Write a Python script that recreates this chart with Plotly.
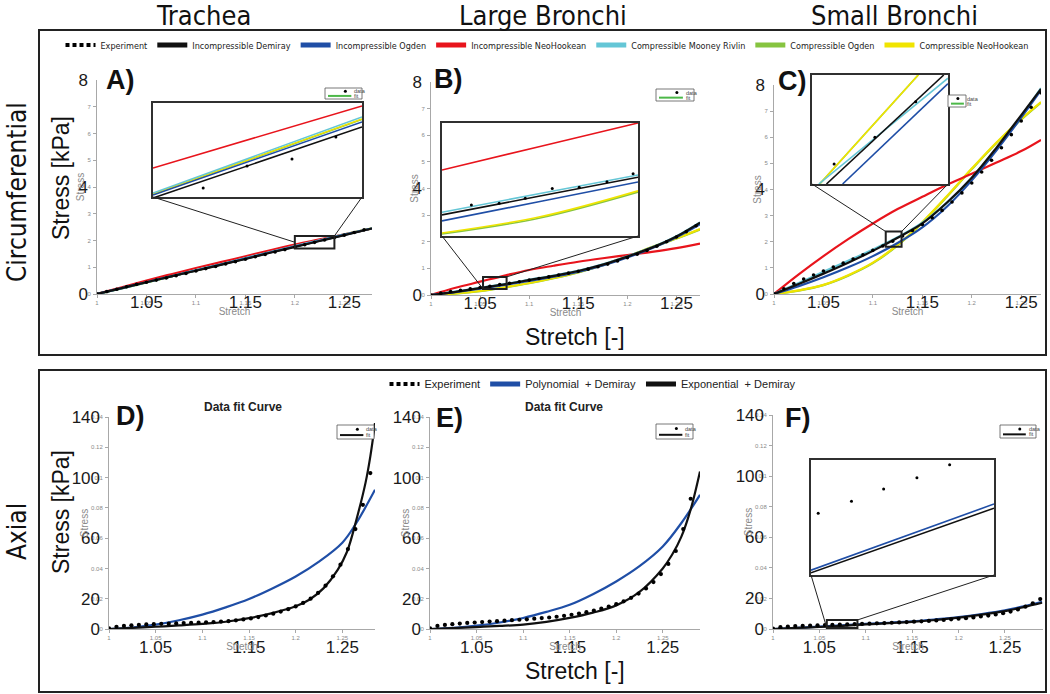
import plotly.graph_objects as go

# ---------------------------------------------------
# DATA  (stress in kPa, stretch in -)
# ---------------------------------------------------

col_titles = ["Trachea", "Large Bronchi", "Small Bronchi"]
row_titles = ["Circumferential", "Axial"]
panel_letters = ["A)", "B)", "C)", "D)", "E)", "F)"]

circ_models = ["Incompressible Demiray", "Incompressible Ogden", "Incompressible NeoHookean",
               "Compressible Mooney Rivlin", "Compressible Ogden", "Compressible NeoHookean"]
circ_colors = ["#111111", "#1f4ea6", "#e8141c", "#64c6d6", "#86c440", "#f0e400"]

axial_models = ["Polynomial  + Demiray", "Exponential  + Demiray"]
axial_colors = ["#1f4ea6", "#111111"]

# circumferential - model curves
x_a = [1.0, 1.025, 1.05, 1.075, 1.1, 1.125, 1.15, 1.175, 1.2, 1.225, 1.25, 1.278]
a_curves = [
    [0, 0.22, 0.44, 0.66, 0.87, 1.09, 1.31, 1.54, 1.76, 1.98, 2.2, 2.45],
    [0, 0.22, 0.44, 0.66, 0.88, 1.1, 1.32, 1.55, 1.77, 1.99, 2.21, 2.45],
    [0, 0.25, 0.5, 0.74, 0.97, 1.19, 1.41, 1.63, 1.845, 2.04, 2.23, 2.45],
    [0, 0.21, 0.43, 0.66, 0.89, 1.11, 1.34, 1.57, 1.79, 2.01, 2.23, 2.46],
    [0, 0.21, 0.43, 0.66, 0.885, 1.1, 1.33, 1.56, 1.78, 2.0, 2.22, 2.455],
    [0, 0.215, 0.435, 0.66, 0.885, 1.105, 1.33, 1.56, 1.785, 2.005, 2.225, 2.455],
]

x_b = [1.0, 1.025, 1.05, 1.075, 1.1, 1.125, 1.15, 1.175, 1.2, 1.225, 1.25, 1.274]
b_curves = [
    [0, 0.12, 0.26, 0.4, 0.56, 0.72, 0.9, 1.14, 1.44, 1.78, 2.2, 2.72],
    [0, 0.11, 0.24, 0.38, 0.53, 0.69, 0.87, 1.11, 1.41, 1.76, 2.17, 2.66],
    [0, 0.27, 0.5, 0.73, 0.94, 1.1, 1.25, 1.38, 1.5, 1.62, 1.76, 1.93],
    [0, 0.13, 0.27, 0.41, 0.57, 0.73, 0.91, 1.15, 1.45, 1.79, 2.21, 2.73],
    [0, 0.05, 0.14, 0.28, 0.44, 0.63, 0.85, 1.12, 1.44, 1.79, 2.12, 2.46],
    [0, 0.06, 0.15, 0.29, 0.45, 0.64, 0.86, 1.13, 1.45, 1.8, 2.13, 2.48],
]

x_c = [1.0, 1.025, 1.05, 1.075, 1.1, 1.125, 1.15, 1.175, 1.2, 1.225, 1.25, 1.27]
c_curves = [
    [0, 0.38, 0.78, 1.2, 1.65, 2.15, 2.7, 3.5, 4.45, 5.6, 6.85, 7.85],
    [0, 0.3, 0.64, 1.02, 1.45, 1.95, 2.55, 3.35, 4.35, 5.5, 6.75, 7.8],
    [0, 0.75, 1.45, 2.1, 2.7, 3.25, 3.72, 4.18, 4.6, 5.03, 5.47, 5.9],
    [0, 0.42, 0.85, 1.27, 1.7, 2.17, 2.73, 3.5, 4.45, 5.55, 6.8, 7.88],
    [0, 0.13, 0.34, 0.7, 1.18, 1.86, 2.73, 3.73, 4.78, 5.78, 6.68, 7.33],
    [0, 0.14, 0.35, 0.72, 1.2, 1.88, 2.75, 3.75, 4.8, 5.8, 6.7, 7.35],
]

# circumferential - experiment
x_exp_circ = [1.00, 1.01, 1.02, 1.03, 1.04, 1.05, 1.06, 1.07, 1.08, 1.09, 1.10, 1.11, 1.12, 1.13,
              1.14, 1.15, 1.16, 1.17, 1.18, 1.19, 1.20, 1.21, 1.22, 1.23, 1.24, 1.25, 1.26, 1.27]
a_exp = [0, 0.09, 0.18, 0.27, 0.36, 0.44, 0.52, 0.6, 0.68, 0.77, 0.86, 0.95, 1.03, 1.12,
         1.21, 1.3, 1.39, 1.48, 1.57, 1.66, 1.75, 1.84, 1.93, 2.02, 2.11, 2.2, 2.3, 2.4]
b_exp = [0, 0.07, 0.13, 0.18, 0.23, 0.28, 0.33, 0.39, 0.44, 0.5, 0.56, 0.62, 0.68, 0.75,
         0.82, 0.89, 0.97, 1.06, 1.16, 1.28, 1.4, 1.53, 1.67, 1.83, 2.0, 2.18, 2.38, 2.6]
c_exp = [0, 0.2, 0.4, 0.57, 0.73, 0.88, 1.03, 1.18, 1.34, 1.5, 1.67, 1.84, 2.02, 2.22,
         2.43, 2.66, 2.92, 3.2, 3.52, 3.87, 4.25, 4.67, 5.12, 5.6, 6.1, 6.62, 7.15, 7.7]

# axial - model curves
x_d_poly = [1.0, 1.025, 1.05, 1.075, 1.1, 1.125, 1.15, 1.175, 1.2, 1.225, 1.25, 1.265, 1.285]
d_poly = [0, 1.0, 2.9, 5.8, 9.5, 14.3, 19.8, 26.8, 34.7, 44.5, 57, 70, 92]
x_d_expo = [1.0, 1.025, 1.05, 1.075, 1.1, 1.125, 1.15, 1.175, 1.2, 1.215, 1.23, 1.245,
            1.255, 1.265, 1.275, 1.28, 1.285]
d_expo = [0, 0.8, 1.5, 2.4, 3.4, 4.8, 7.2, 10.5, 15.0, 19.5, 27, 39, 51, 72, 97, 114, 136]

x_e_poly = [1.0, 1.025, 1.05, 1.075, 1.1, 1.125, 1.15, 1.175, 1.2, 1.225, 1.25, 1.27, 1.29]
e_poly = [0, 0.8, 2.2, 4.3, 7.3, 11.3, 16, 23, 31.4, 41.5, 54.5, 70, 88.6]
x_e_expo = [1.0, 1.025, 1.05, 1.075, 1.1, 1.125, 1.15, 1.175, 1.2, 1.225, 1.25, 1.26, 1.27, 1.28, 1.29]
e_expo = [0, 0.6, 1.3, 2.0, 2.9, 4.7, 7.3, 10.8, 15.6, 24.5, 40, 49, 61, 79, 104]

x_f = [1.0, 1.025, 1.05, 1.075, 1.1, 1.125, 1.15, 1.175, 1.2, 1.225, 1.25, 1.27, 1.29]
f_poly = [0, 0.8, 1.5, 2.4, 3.3, 4.1, 5.0, 6.3, 7.8, 9.8, 12.2, 14.8, 17.8]
f_expo = [0, 0.7, 1.3, 2.1, 3.0, 3.8, 4.7, 5.9, 7.4, 9.4, 11.7, 14.3, 17.2]

# axial - experiment
x_exp_axial = [1.000, 1.008, 1.016, 1.024, 1.032, 1.040, 1.048, 1.056, 1.064, 1.072, 1.080, 1.088,
               1.096, 1.104, 1.112, 1.120, 1.128, 1.136, 1.144, 1.152, 1.160, 1.168, 1.176, 1.184,
               1.192, 1.200, 1.208, 1.216, 1.224, 1.232, 1.240, 1.248, 1.256, 1.264, 1.272, 1.280,
               1.288]
d_exp = [0.5, 1.5, 2.0, 2.4, 2.7, 3.0, 3.2, 3.4, 3.5, 3.7, 3.9, 4.0, 4.2, 4.4, 4.6, 4.9, 5.2, 5.7,
         6.3, 7.0, 7.9, 8.9, 10.1, 11.5, 13.1, 14.9, 17.2, 20.0, 23.8, 28.6, 34.8, 42.5, 52.8,
         66.0, 82.0, 103.0]
e_exp = [0.5, 2.0, 2.7, 3.2, 3.6, 4.0, 4.3, 4.6, 4.9, 5.2, 5.5, 5.8, 6.1, 6.4, 6.8, 7.2, 7.6, 8.1,
         8.7, 9.4, 10.2, 11.1, 12.2, 13.4, 14.8, 16.4, 18.3, 20.6, 23.4, 26.8, 31.0, 36.3, 43.0,
         51.5, 66.0, 86.0]
f_exp = [0.3, 1.2, 1.6, 1.9, 2.1, 2.3, 2.4, 2.6, 2.7, 2.9, 3.0, 3.2, 3.3, 3.5, 3.7, 3.9, 4.1, 4.3,
         4.5, 4.8, 5.0, 5.3, 5.6, 5.9, 6.3, 6.7, 7.1, 7.6, 8.2, 8.8, 9.5, 10.3, 11.4, 12.8, 14.6,
         16.8, 19.6]

# zoomed insets (same model order as circ_models)
ins_a_x = [1.2, 1.24]
ins_a_y = [[1.695, 2.05], [1.71, 2.075], [1.845, 2.155], [1.72, 2.10], [1.713, 2.088], [1.715, 2.09]]
ins_a_exp_x = [1.2096, 1.218, 1.2266, 1.235]
ins_a_exp_y = [1.745, 1.855, 1.89, 2.0]

ins_b_x = [1.053, 1.065, 1.077]
ins_b_y = [[0.314, 0.389, 0.464], [0.29, 0.3675, 0.445], [0.493, 0.5865, 0.68],
           [0.3245, 0.399, 0.473], [0.238, 0.302, 0.405], [0.242, 0.3065, 0.41]]
ins_b_exp_x = [1.0566, 1.060, 1.0632, 1.0665, 1.0698, 1.0732, 1.0764]
ins_b_exp_y = [0.353, 0.36, 0.38, 0.419, 0.424, 0.446, 0.478]

ins_c_x = [[1.1147, 1.1285], [1.1166, 1.129], [], [1.1138, 1.129], [1.1139, 1.1255], [1.1139, 1.1255]]
ins_c_y = [[1.81, 2.39], [1.81, 2.344], [], [1.81, 2.373], [1.81, 2.39], [1.81, 2.39]]
ins_c_exp_x = [1.1156, 1.1204, 1.1252]
ins_c_exp_y = [1.916, 2.059, 2.248]

ins_f_x = [1.058, 1.091]
ins_f_y = [[0.92, 3.91], [0.80, 3.72]]
ins_f_exp_x = [1.0593, 1.0653, 1.0711, 1.0771, 1.083]
ins_f_exp_y = [3.49, 4.04, 4.59, 5.10, 5.68]

# tick labels
small_x_ticks = [1, 1.05, 1.1, 1.15, 1.2, 1.25]
small_x_text = ["1", "1.05", "1.1", "1.15", "1.2", "1.25"]
big_x_ticks = [1.05, 1.15, 1.25]
small_y_circ = [0, 1, 2, 3, 4, 5, 6, 7]
big_y_circ = [0, 4, 8]
small_y_axial = [0, 20, 40, 60, 80, 100, 120, 140]
small_y_axial_text = ["0", "0.02", "0.04", "0.06", "0.08", "0.1", "0.12", "0.14"]
big_y_axial = [0, 20, 60, 100, 140]


# ---------------------------------------------------
# GEOMETRY (pixels)
# ---------------------------------------------------

W, H = 1050, 694
FONT = "Liberation Sans, Arial, sans-serif"
NARROW = "Liberation Sans Narrow, Arial Narrow, DejaVu Sans Condensed, sans-serif"


def fx(p):
    return p / W


def fy(p):
    return 1 - p / H


def sfx(n):
    return "" if n == 1 else str(n)


frames = [
    dict(x=(97, 372), y=(80, 294), xr=[1, 1.278], yr=[0, 8]),
    dict(x=(431, 700), y=(82, 295), xr=[1, 1.274], yr=[0, 8]),
    dict(x=(774, 1041), y=(85, 294), xr=[1, 1.27], yr=[0, 8]),
    dict(x=(109, 375), y=(417, 629), xr=[1, 1.285], yr=[0, 140]),
    dict(x=(430, 700), y=(417, 629), xr=[1, 1.29], yr=[0, 140]),
    dict(x=(773, 1043), y=(415, 629), xr=[1, 1.291], yr=[0, 140]),
]

fig = go.Figure()


# ---------------------------------------------------
# CIRCUMFERENTIAL PANELS
# ---------------------------------------------------

draw_order = [4, 5, 2, 3, 1, 0]
top_sets = [(x_a, a_curves, a_exp), (x_b, b_curves, b_exp), (x_c, c_curves, c_exp)]

for p, (xc, curves, exp) in enumerate(top_sets):
    s = sfx(p + 1)
    for k in draw_order:
        fig.add_trace(go.Scatter(
            x=xc, y=curves[k], mode="lines",
            line=dict(color=circ_colors[k], width=2.2, shape="spline"),
            showlegend=False, xaxis="x" + s, yaxis="y" + s
        ))
    fig.add_trace(go.Scatter(
        x=x_exp_circ, y=exp, mode="markers",
        marker=dict(color="black", size=3.6),
        showlegend=False, xaxis="x" + s, yaxis="y" + s
    ))


# ---------------------------------------------------
# AXIAL PANELS
# ---------------------------------------------------

bot_sets = [
    (x_d_poly, d_poly, x_d_expo, d_expo, x_exp_axial[:36], d_exp),
    (x_e_poly, e_poly, x_e_expo, e_expo, x_exp_axial[:36], e_exp),
    (x_f, f_poly, x_f, f_expo, x_exp_axial, f_exp),
]

for p, (xp, yp, xe, ye, xd, yd) in enumerate(bot_sets):
    s = sfx(p + 4)
    fig.add_trace(go.Scatter(x=xp, y=yp, mode="lines",
                             line=dict(color=axial_colors[0], width=2.2, shape="spline"),
                             showlegend=False, xaxis="x" + s, yaxis="y" + s))
    fig.add_trace(go.Scatter(x=xe, y=ye, mode="lines",
                             line=dict(color=axial_colors[1], width=2.2, shape="spline"),
                             showlegend=False, xaxis="x" + s, yaxis="y" + s))
    fig.add_trace(go.Scatter(x=xd, y=yd, mode="markers",
                             marker=dict(color="black", size=4.2),
                             showlegend=False, xaxis="x" + s, yaxis="y" + s))


# ---------------------------------------------------
# LEGENDS (legend-only entries)
# ---------------------------------------------------

fig.add_trace(go.Scatter(x=[None], y=[None], mode="lines", name="Experiment",
                         line=dict(color="black", width=4, dash="4px,3px"),
                         legend="legend", legendrank=1))
for k, name in enumerate(circ_models):
    fig.add_trace(go.Scatter(x=[None], y=[None], mode="lines", name=name,
                             line=dict(color=circ_colors[k], width=5),
                             legend="legend", legendrank=k + 2))

fig.add_trace(go.Scatter(x=[None], y=[None], mode="lines", name="Experiment",
                         line=dict(color="black", width=4, dash="4px,3px"),
                         legend="legend2", legendrank=1))
for k, name in enumerate(axial_models):
    fig.add_trace(go.Scatter(x=[None], y=[None], mode="lines", name=name,
                             line=dict(color=axial_colors[k], width=5),
                             legend="legend2", legendrank=k + 2))


# ---------------------------------------------------
# AXES
# ---------------------------------------------------

layout = {}
small_font = dict(family=FONT, size=6, color="#8a8a8a")
big_font = dict(family=FONT, size=17, color="#1a1a1a")

for i, fr in enumerate(frames):
    n = i + 1
    s = sfx(n)
    top = i < 3
    xd = [fx(fr["x"][0]), fx(fr["x"][1])]
    yd = [fy(fr["y"][1]), fy(fr["y"][0])]

    layout["xaxis" + s] = dict(
        domain=xd, range=fr["xr"], anchor="y" + s,
        showline=True, linecolor="#a8a8a8", linewidth=1,
        ticks="outside", ticklen=3, tickcolor="#a8a8a8",
        tickvals=small_x_ticks, ticktext=small_x_text, tickfont=small_font,
        ticklabelstandoff=0, showgrid=False, zeroline=False, automargin=False,
        title=dict(text="Stretch", font=dict(family=FONT, size=10, color="#8a8a8a"), standoff=0),
    )
    layout["yaxis" + s] = dict(
        domain=yd, range=fr["yr"], anchor="x" + s,
        showline=True, linecolor="#a8a8a8", linewidth=1,
        ticks="outside", ticklen=3, tickcolor="#a8a8a8",
        tickvals=small_y_circ if top else small_y_axial,
        ticktext=[str(v) for v in small_y_circ] if top else small_y_axial_text,
        tickfont=small_font, ticklabelstandoff=1,
        showgrid=False, zeroline=False, automargin=False,
        title=dict(text="Stress", font=dict(family=FONT, size=10, color="#8a8a8a"), standoff=0),
    )

    # big tick labels on overlaid axes
    b = str(n + 6)
    layout["xaxis" + b] = dict(
        overlaying="x" + s, anchor="y" + s, range=fr["xr"], side="bottom",
        showline=False, ticks="", tickvals=big_x_ticks,
        ticktext=["1.05", "1.15", "1.25"], tickfont=big_font, automargin=False,
        ticklabelstandoff=-4 if top else 6, showgrid=False, zeroline=False,
    )
    layout["yaxis" + b] = dict(
        overlaying="y" + s, anchor="x" + s, range=fr["yr"], side="left",
        showline=False, ticks="", tickvals=big_y_circ if top else big_y_axial,
        tickfont=big_font, ticklabelstandoff=8, showgrid=False, zeroline=False,
        automargin=False,
    )
    fig.add_trace(go.Scatter(x=[None], y=[None], showlegend=False, hoverinfo="skip",
                             xaxis="x" + b, yaxis="y" + b))


# ---------------------------------------------------
# INSETS
# ---------------------------------------------------

insets = [
    dict(panel=1, box=(153, 103, 362, 197), win=[1.2, 1.24, 1.7, 2.17], left="mid"),
    dict(panel=2, box=(442, 123, 638, 236), win=[1.053, 1.077, 0.23, 0.68], left="bottom"),
    dict(panel=3, box=(812, 75, 948, 184), win=[1.113, 1.129, 1.81, 2.39], left="top"),
    dict(panel=6, box=(811, 460, 994, 575), win=[1.058, 1.091, 0.7, 5.9], left="bottom"),
]

inset_lines = [
    [(ins_a_x, ins_a_y[k], circ_colors[k]) for k in draw_order],
    [(ins_b_x, ins_b_y[k], circ_colors[k]) for k in draw_order],
    [(ins_c_x[k], ins_c_y[k], circ_colors[k]) for k in draw_order],
    [(ins_f_x, ins_f_y[0], axial_colors[0]), (ins_f_x, ins_f_y[1], axial_colors[1])],
]
inset_points = [(ins_a_exp_x, ins_a_exp_y), (ins_b_exp_x, ins_b_exp_y),
                (ins_c_exp_x, ins_c_exp_y), (ins_f_exp_x, ins_f_exp_y)]

shapes = []

for j, ins in enumerate(insets):
    n = 13 + j
    s = str(n)
    x0, y0, x1, y1 = ins["box"]
    win = ins["win"]
    layout["xaxis" + s] = dict(domain=[fx(x0), fx(x1)], range=win[:2], anchor="y" + s,
                               showline=True, mirror=True, linecolor="#303030", linewidth=1.5,
                               showticklabels=False, ticks="", showgrid=False, zeroline=False)
    layout["yaxis" + s] = dict(domain=[fy(y1), fy(y0)], range=win[2:], anchor="x" + s,
                               showline=True, mirror=True, linecolor="#303030", linewidth=1.5,
                               showticklabels=False, ticks="", showgrid=False, zeroline=False)
    for lx, ly, col in inset_lines[j]:
        if not lx:
            continue
        fig.add_trace(go.Scatter(x=lx, y=ly, mode="lines",
                                 line=dict(color=col, width=1.6, shape="spline"),
                                 showlegend=False, xaxis="x" + s, yaxis="y" + s))
    px_, py_ = inset_points[j]
    fig.add_trace(go.Scatter(x=px_, y=py_, mode="markers", marker=dict(color="black", size=3),
                             showlegend=False, xaxis="x" + s, yaxis="y" + s))

    # zoom rectangle and connecting lines on the parent panel
    fr = frames[ins["panel"] - 1]
    ps = sfx(ins["panel"])
    (dx0, dx1), (dy0, dy1) = fr["x"], fr["y"]
    xr, yr = fr["xr"], fr["yr"]

    def to_dx(p):
        return xr[0] + (p - dx0) / (dx1 - dx0) * (xr[1] - xr[0])

    def to_dy(p):
        return yr[0] + (dy1 - p) / (dy1 - dy0) * (yr[1] - yr[0])

    shapes.append(dict(type="rect", xref="x" + ps, yref="y" + ps,
                       x0=win[0], x1=win[1], y0=win[2], y1=win[3],
                       line=dict(color="#202020", width=2)))
    ly = {"mid": (win[2] + win[3]) / 2, "bottom": win[2], "top": win[3]}[ins["left"]]
    shapes.append(dict(type="line", xref="x" + ps, yref="y" + ps,
                       x0=to_dx(x0), y0=to_dy(y1), x1=win[0], y1=ly,
                       line=dict(color="#202020", width=1)))
    shapes.append(dict(type="line", xref="x" + ps, yref="y" + ps,
                       x0=to_dx(x1), y0=to_dy(y1), x1=win[1], y1=win[3],
                       line=dict(color="#202020", width=1)))


# ---------------------------------------------------
# SMALL "data / fit" BOXES
# ---------------------------------------------------

annotations = []
mini = [(325, 88, 362, 99, "#4cb848"), (656, 89, 694, 101, "#4cb848"),
        (948, 95, 966, 107, "#4cb848"), (337, 425, 374, 439, "#111111"),
        (656, 424, 693, 439, "#111111"), (1000, 425, 1036, 438, "#111111")]
for x0, y0, x1, y1, col in mini:
    shapes.append(dict(type="rect", xref="paper", yref="paper",
                       x0=fx(x0), x1=fx(x1), y0=fy(y1), y1=fy(y0),
                       fillcolor="white", line=dict(color="#555", width=0.8)))
    ym1 = y0 + (y1 - y0) * 0.3
    ym2 = y0 + (y1 - y0) * 0.72
    xm = x0 + (x1 - x0) * 0.55
    shapes.append(dict(type="circle", xref="paper", yref="paper",
                       x0=fx(xm - 1.5), x1=fx(xm + 1.5), y0=fy(ym1 + 1.5), y1=fy(ym1 - 1.5),
                       fillcolor="black", line=dict(width=0)))
    shapes.append(dict(type="line", xref="paper", yref="paper",
                       x0=fx(x0 + 3), x1=fx(xm + 6), y0=fy(ym2), y1=fy(ym2),
                       line=dict(color=col, width=2)))
    annotations.append(dict(x=fx(xm + 7), y=fy(ym1), xref="paper", yref="paper",
                            text="data", showarrow=False, xanchor="left", yanchor="middle",
                            font=dict(family=FONT, size=5.5, color="#444")))
    annotations.append(dict(x=fx(xm + 7), y=fy(ym2), xref="paper", yref="paper",
                            text="fit", showarrow=False, xanchor="left", yanchor="middle",
                            font=dict(family=FONT, size=5.5, color="#444")))


# ---------------------------------------------------
# FRAMES, TITLES, LABELS
# ---------------------------------------------------

shapes.append(dict(type="rect", xref="paper", yref="paper", x0=fx(39), x1=fx(1046),
                   y0=fy(355), y1=fy(30), line=dict(color="#222", width=2)))
shapes.append(dict(type="rect", xref="paper", yref="paper", x0=fx(39), x1=fx(1046),
                   y0=fy(692), y1=fy(370), line=dict(color="#222", width=2)))


def label(cx, cy, text, size, family=FONT, angle=0, color="#111"):
    annotations.append(dict(x=fx(cx), y=fy(cy), xref="paper", yref="paper", text=text,
                            textangle=angle, showarrow=False, xanchor="center",
                            yanchor="middle", font=dict(family=family, size=size, color=color)))


for txt, cx in zip(col_titles, [203, 543, 894]):
    label(cx, 15, txt, 27, NARROW)
for txt, cy in zip(row_titles, [192, 532]):
    label(17, cy, txt, 26, NARROW, angle=-90)

letter_pos = [(120, 80), (448, 79), (792, 81), (130, 416), (449, 418), (797, 418)]
for txt, (cx, cy) in zip(panel_letters, letter_pos):
    label(cx, cy, "<b>" + txt + "</b>", 27)

for cy in [178, 512]:
    label(61, cy, "Stress [kPa]", 23, angle=-90)
for cy in [337, 671]:
    label(575, cy, "Stretch [-]", 23)

for cx in [243, 564]:
    label(cx, 407, "<b>Data fit Curve</b>", 12, color="#222")


# ---------------------------------------------------
# LAYOUT
# ---------------------------------------------------

fig.update_layout(
    width=W,
    height=H,
    margin=dict(l=0, r=0, t=0, b=0, autoexpand=False),
    paper_bgcolor="white",
    plot_bgcolor="white",
    font=dict(family=FONT),
    shapes=shapes,
    annotations=annotations,
    legend=dict(orientation="h", x=fx(547), xanchor="center", y=fy(45), yanchor="middle",
                font=dict(family=NARROW, size=9, color="#222"), itemwidth=30,
                bgcolor="rgba(0,0,0,0)"),
    legend2=dict(orientation="h", x=fx(593), xanchor="center", y=fy(384), yanchor="middle",
                 font=dict(family=FONT, size=11, color="#222"), itemwidth=30,
                 bgcolor="rgba(0,0,0,0)"),
    **layout
)

# page body has a default 8px margin; remove it so the figure sits at the window corner
fig.write_html("out.html", config={"displayModeBar": False},
               post_script="document.body.style.margin='0';")
